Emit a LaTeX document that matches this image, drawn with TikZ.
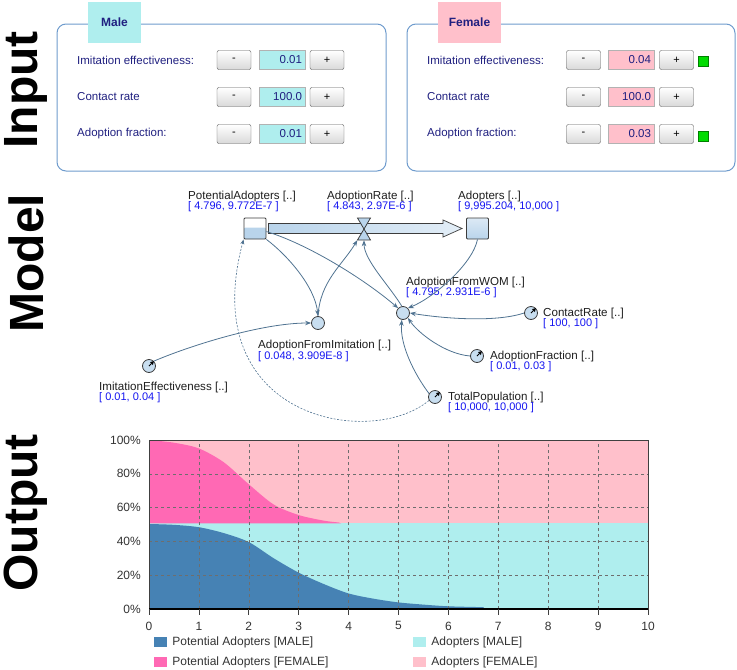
\documentclass[tikz,border=0pt]{standalone}
\usepackage{fontspec}
\setmainfont{Liberation Sans}
\usetikzlibrary{arrows.meta,calc,positioning}

\definecolor{navytext}{RGB}{32,32,128}
\definecolor{panelline}{RGB}{110,155,205}
\definecolor{maletab}{RGB}{175,238,238}
\definecolor{femaletab}{RGB}{255,192,203}
\definecolor{flaggreen}{RGB}{0,220,0}
\definecolor{stockline}{RGB}{60,60,60}
\definecolor{auxfill}{RGB}{200,222,240}
\definecolor{pipeblue}{RGB}{185,212,235}
\definecolor{linkcol}{RGB}{80,115,145}
\definecolor{nametext}{RGB}{30,30,30}
\definecolor{valuetext}{RGB}{20,20,240}
\definecolor{pmale}{RGB}{70,130,180}
\definecolor{pfemale}{RGB}{255,105,180}
\definecolor{gridcol}{RGB}{110,110,110}

\tikzset{
  sidelabel/.style={rotate=90, inner sep=0pt, font=\fontsize{48}{48}\selectfont\bfseries},
  panel/.style={draw=panelline, line width=1pt, rounded corners=9pt},
  tab/.style={minimum height=41pt, inner sep=0pt, font=\fontsize{12}{12}\selectfont\bfseries, text=navytext},
  paneltext/.style={anchor=west, inner sep=0pt, font=\fontsize{11.5}{12}\selectfont, text=navytext},
  btn/.style={draw=gray!70!black, rounded corners=2pt, top color=white, bottom color=gray!30,
    minimum width=34pt, minimum height=19pt, inner sep=0pt, font=\fontsize{11}{11}\selectfont},
  valbox/.style={draw=gray!60, minimum height=19pt, text width=40pt, align=right,
    inner xsep=3pt, inner ysep=0pt, font=\fontsize{11.5}{12}\selectfont, text=navytext},
  flag/.style={draw=green!50!black, fill=flaggreen, minimum size=10pt, inner sep=0pt},
  stock/.style={draw=stockline, line width=.9pt, minimum width=22pt, minimum height=21pt,
    inner sep=0pt, rounded corners=1pt},
  aux/.style={circle, draw=stockline, line width=.8pt, fill=auxfill, minimum size=13pt, inner sep=0pt},
  vname/.style={anchor=west, inner sep=0pt, font=\fontsize{11.6}{11}\selectfont, text=nametext},
  vvalue/.style={anchor=west, inner sep=0pt, font=\fontsize{11}{11}\selectfont, text=valuetext},
  link/.style={draw=linkcol, line width=.8pt, -{Stealth[length=6pt,width=4.5pt]}},
  dashlink/.style={draw=linkcol, line width=.6pt, dash pattern=on 2pt off 1.5pt, -{Stealth[length=5pt,width=4pt]}},
  parmark/.style={black, line width=.8pt, -{Triangle[length=3.5pt,width=4pt]}},
  pipe/.style={draw=stockline, line width=.7pt, left color=pipeblue, right color=pipeblue!40},
  gridline/.style={draw=gridcol, line width=.6pt, dash pattern=on 3pt off 3pt},
  charttext/.style={inner sep=0pt, font=\fontsize{12}{12}\selectfont, text=black!80},
  legbox/.style={minimum width=13pt, minimum height=10pt, inner sep=0pt},
}

\begin{document}
\begin{tikzpicture}[x=1pt,y=-1pt]
\useasboundingbox (0,0) rectangle (737,670);

% section titles
\node[sidelabel] (tin) at (26,90) {Input};
\node[sidelabel] (tmo) at (26,263) {Model};
\node[sidelabel] (tou) at (26,513) {Output};

% input panels
\draw[panel] (57,24) rectangle (386,171);
\draw[panel] (407,24) rectangle (735,171);
\node[tab, fill=maletab, minimum width=53pt] (maletab) at (114.5,22.5) {Male};
\node[tab, fill=femaletab, minimum width=63pt] (femaletab) at (469.5,22.5) {Female};

\foreach \row/\yy/\txt/\mv/\fv in {1/60/Imitation effectiveness:/0.01/0.04,
    2/97/Contact rate/100.0/100.0, 3/134/Adoption fraction:/0.01/0.03}{
  \node[paneltext] (mlab\row) at (77,\yy) {\txt};
  \node[btn] (mminus\row) at (234,\yy) {-};
  \node[valbox, fill=maletab] (mval\row) at (282,\yy) {\mv};
  \node[btn] (mplus\row) at (327,\yy) {+};
  \node[paneltext] (flab\row) at (427,\yy) {\txt};
  \node[btn] (fminus\row) at (583.5,\yy) {-};
  \node[valbox, fill=femaletab] (fval\row) at (631,\yy) {\fv};
  \node[btn] (fplus\row) at (676.5,\yy) {+};
}
\node[flag] (flag1) at (703,61.5) {};
\node[flag] (flag3) at (703,136) {};

% model: stocks and flow
\node[stock, path picture={\fill[pipeblue] (path picture bounding box.south west)
  rectangle ($(path picture bounding box.east)+(0,-1)$);}] (pa) at (255,228.5) {};
\node[stock, top color=pipeblue!50, bottom color=pipeblue] (ad) at (477.5,228.5) {};
\node[minimum width=13pt, minimum height=22pt, inner sep=0pt] (ar) at (364,229) {};
\path[pipe] ($(pa.east)+(2,-5)$) -- ($(ad.west)+(-23,-5)$) -- ($(ad.west)+(-23,-8.5)$)
  -- ($(ad.west)+(-4,0)$) -- ($(ad.west)+(-23,8.5)$) -- ($(ad.west)+(-23,5)$)
  -- ($(pa.east)+(2,5)$) -- cycle;
\filldraw[draw=stockline, line width=.8pt, fill=pipeblue] ($(ar)+(-6.5,-11)$) -- ($(ar)+(6.5,-11)$)
  -- ($(ar)+(-6.5,11)$) -- ($(ar)+(6.5,11)$) -- cycle;

% model: variables
\node[aux] (wom) at (403,313) {};
\node[aux] (afi) at (318,323) {};
\node[aux] (ie) at (149,366) {};
\node[aux] (cr) at (531,313) {};
\node[aux] (af) at (477,356) {};
\node[aux] (tp) at (435,397) {};
\draw[parmark] (ie.center) -- (ie.45);
\draw[parmark] (cr.center) -- (cr.45);
\draw[parmark] (af.center) -- (af.45);
\draw[parmark] (tp.center) -- (tp.45);

% model: labels
\node[vname] (paname) at (188,196) {PotentialAdopters [..]};
\node[vvalue] (paval) at (188,207) {[ 4.796, 9.772E-7 ]};
\node[vname] (arname) at (327,196) {AdoptionRate [..]};
\node[vvalue] (arval) at (327,207) {[ 4.843, 2.97E-6 ]};
\node[vname] (adname) at (458,196) {Adopters [..]};
\node[vvalue] (adval) at (458,207) {[ 9,995.204, 10,000 ]};
\node[vname] (womname) at (406,282) {AdoptionFromWOM [..]};
\node[vvalue] (womval) at (406,293) {[ 4.795, 2.931E-6 ]};
\node[vname] (afiname) at (258,345) {AdoptionFromImitation [..]};
\node[vvalue] (afival) at (258,357) {[ 0.048, 3.909E-8 ]};
\node[vname] (iename) at (99,387) {ImitationEffectiveness [..]};
\node[vvalue] (ieval) at (99,398) {[ 0.01, 0.04 ]};
\node[vname] (crname) at (543,313) {ContactRate [..]};
\node[vvalue] (crval) at (543,324) {[ 100, 100 ]};
\node[vname] (afname) at (490,356) {AdoptionFraction [..]};
\node[vvalue] (afval) at (490,367) {[ 0.01, 0.03 ]};
\node[vname] (tpname) at (448,397) {TotalPopulation [..]};
\node[vvalue] (tpval) at (448,408) {[ 10,000, 10,000 ]};

% model: links
\draw[link] (pa.south east) .. controls +(20,15) and +(-3,-30) .. (afi.north);
\draw[link] (afi.north) .. controls +(2,-35) and +(-15,25) .. (ar.south west);
\draw[link] (pa.-15) .. controls +(40,12) and +(-35,-30) .. (wom.135);
\draw[link] (wom.100) .. controls +(-12,-20) and +(0,20) .. (ar.south);
\draw[link] (ad.south) .. controls +(-5,25) and +(25,-10) .. (wom.45);
\draw[link] (cr.west) .. controls +(-30,10) and +(30,5) .. (wom.east);
\draw[link] (af.west) .. controls +(-25,-2) and +(10,15) .. (wom.-45);
\draw[link] (tp.150) .. controls +(-15,-20) and +(-2,25) .. (wom.-100);
\draw[link] (ie.45) .. controls +(35,-15) and +(-50,0) .. (afi.west);
\draw[dashlink] (tp.-150) .. controls +(-59,49) and +(-48,179) .. (pa.south west);

% output chart
\begin{scope}[shift={(149,609)}, x=49.9pt, y=1.69pt]
  \fill[femaletab] (0,50.6) rectangle (10,100);
  \fill[maletab] (0,0) rectangle (10,50.6);
  \fill[pmale] (0,0) -- plot[smooth, tension=.5] coordinates {(0,50.3) (0.5,49.8) (1,48.4)
    (1.5,44.9) (2,39.6) (2.5,30) (3,21.5) (3.5,14.8) (4,9.2) (4.5,6.1) (5,3.9) (5.5,2.6)
    (6,1.6) (6.7,1.1)} -- (6.72,0.4) -- (10,0.3) -- (10,0) -- cycle;
  \fill[pfemale] (0,50.6) -- plot[smooth, tension=.5] coordinates {(0,100) (0.5,98.4)
    (1,95) (1.5,86.8) (2,73.8) (2.5,61.8) (3,55.6) (3.5,52.3) (3.8,51.2)} -- (3.85,50.6) -- cycle;
  \foreach \t in {1,...,9} \draw[gridline] (\t,0) -- (\t,100);
  \foreach \p in {20,40,60,80} \draw[gridline] (0,\p) -- (10,\p);
  \draw[black!75, line width=.8pt] (0,0) rectangle (10,100);
  \draw[black, line width=1.4pt] (0,0) -- (10,0);
  \foreach \t in {0,...,10}{
    \draw[black!75, line width=.8pt] (\t,0) -- (\t,-3.5);
    \node[charttext] (xt\t) at (\t,-10) {\t};
  }
  \foreach \p in {0,20,...,100}
    \node[charttext, anchor=east] (yt\p) at (-0.16,\p) {\p\%};
\end{scope}

% legend
\node[legbox, fill=pmale] (lg1) at (160.5,642) {};
\node[charttext, right=5pt of lg1] (lt1) {Potential Adopters [MALE]};
\node[legbox, fill=pfemale] (lg2) at (160.5,662) {};
\node[charttext, right=5pt of lg2] (lt2) {Potential Adopters [FEMALE]};
\node[legbox, fill=maletab] (lg3) at (419.5,642) {};
\node[charttext, right=5pt of lg3] (lt3) {Adopters [MALE]};
\node[legbox, fill=femaletab] (lg4) at (419.5,662) {};
\node[charttext, right=5pt of lg4] (lt4) {Adopters [FEMALE]};

\end{tikzpicture}
\end{document}
